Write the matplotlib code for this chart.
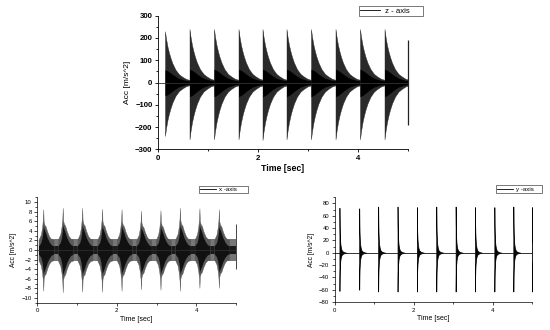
import matplotlib
matplotlib.use("Agg")
import matplotlib.pyplot as plt
from matplotlib.ticker import MultipleLocator
from matplotlib.lines import Line2D

# ---------------- data ----------------
# z-axis: impact times [s], positive / negative peak values [m/s^2]
z_times = [0.14, 0.63, 1.12, 1.61, 2.09, 2.57, 3.06, 3.55, 4.04, 4.53]
z_pos = [230, 240, 240, 240, 240, 240, 240, 240, 240, 240]
z_neg = [-240, -255, -255, -255, -258, -255, -255, -255, -255, -255]
z_end_time = [4.99]
z_end_pos = [190]
z_end_neg = [-190]
# envelope of one z burst (offset after impact [s], fraction of the peak)
z_env_off = [0.0, 0.02, 0.05, 0.08, 0.11, 0.15, 0.21, 0.28, 0.35, 0.42, 0.49]
z_env_frac = [1.0, 0.86, 0.70, 0.58, 0.48, 0.37, 0.25, 0.16, 0.11, 0.07, 0.05]
z_inner_frac = [0.25, 0.24, 0.23, 0.21, 0.19, 0.16, 0.12, 0.08, 0.06, 0.04, 0.03]

# x-axis
x_times = [0.15, 0.64, 1.13, 1.63, 2.12, 2.61, 3.10, 3.59, 4.08, 4.57]
x_pos = [8.5, 8.8, 8.8, 8.6, 8.5, 8.2, 8.3, 8.8, 8.7, 8.5]
x_neg = [-8.5, -8.8, -8.7, -8.7, -8.5, -8.2, -8.3, -8.5, -7.9, -7.9]
x_end_time = [4.99]
x_end_pos = [5.4]
x_end_neg = [-4.0]
x_env_off = [-0.12, -0.06, -0.03, -0.01, 0.0, 0.01, 0.03, 0.06, 0.10, 0.15, 0.20, 0.26]
x_env_frac = [0.25, 0.38, 0.55, 0.75, 1.0, 0.70, 0.62, 0.58, 0.45, 0.33, 0.27, 0.25]
x_inner_frac = [0.10, 0.18, 0.30, 0.45, 0.60, 0.55, 0.50, 0.42, 0.30, 0.20, 0.13, 0.10]
x_noise_start = [0.13]
x_noise_end = [4.99]
x_noise_outer = [2.2]
x_noise_inner = [0.9]

# y-axis
y_times = [0.12, 0.62, 1.10, 1.59, 2.08, 2.57, 3.06, 3.55, 4.04, 4.52, 4.99]
y_pos = [73, 72, 75, 75, 74, 75, 75, 74, 74, 75, 74]
y_neg = [-62, -60, -63, -63, -63, -63, -63, -63, -63, -63, -63]
y_env_off = [0.0, 0.004, 0.008, 0.015, 0.025, 0.04, 0.06, 0.09, 0.13, 0.18]
y_env_frac = [1.0, 0.62, 0.45, 0.30, 0.18, 0.10, 0.05, 0.025, 0.01, 0.0]

FONT = "Liberation Sans"

fig = plt.figure(figsize=(5.5, 3.3), dpi=100)
W, H = 550.0, 330.0


def add_axes(l, r, t, b):
    return fig.add_axes([l / W, 1 - b / H, (r - l) / W, (b - t) / H])


def style(ax, ylim, ymaj, ymin, fs, lw):
    ax.set_xlim(0, 5.0)
    ax.set_ylim(*ylim)
    ax.xaxis.set_major_locator(MultipleLocator(2))
    ax.xaxis.set_minor_locator(MultipleLocator(1))
    ax.yaxis.set_major_locator(MultipleLocator(ymaj))
    ax.yaxis.set_minor_locator(MultipleLocator(ymin))
    for s in ("top", "right"):
        ax.spines[s].set_visible(False)
    for s in ("left", "bottom"):
        ax.spines[s].set_linewidth(lw)
    ax.tick_params(which="major", direction="out", length=2.5, width=lw,
                   labelsize=fs, pad=1.5)
    ax.tick_params(which="minor", direction="out", length=1.5, width=lw)
    for lab in ax.get_xticklabels() + ax.get_yticklabels():
        lab.set_fontfamily(FONT)


def bursts(ax, times, pos, neg, off, frac, color, lw=0.0):
    for t0, p, n in zip(times, pos, neg):
        tt = [t0 + o for o in off]
        up = [p * f for f in frac]
        lo = [n * f for f in frac]
        ax.fill_between(tt, lo, up, color=color, lw=lw, edgecolor=color)


def legend(ax, text, x0, y0, x1, y1, fs):
    h = [Line2D([], [], color="k", lw=0.6)]
    ax.legend(h, [text], loc="center", bbox_to_anchor=(x0 / W, 1 - y1 / H,
              (x1 - x0) / W, (y1 - y0) / H), bbox_transform=fig.transFigure,
              mode="expand", fancybox=False, framealpha=1, edgecolor="#444",
              borderpad=0.15, handlelength=2.6, handletextpad=0.6,
              prop={"family": FONT, "size": fs}, borderaxespad=0)
    ax.get_legend().get_frame().set_linewidth(0.5)


# ---------------- top: z-axis ----------------
ax1 = add_axes(158, 408, 15.7, 149.3)
ax1.axhline(0, color="#333", lw=0.6)
bursts(ax1, z_times, z_pos, z_neg, z_env_off, z_env_frac, "#2a2a2a", 0.3)
bursts(ax1, z_times, z_pos, z_neg, z_env_off, z_inner_frac, "#000000")
ax1.vlines(z_end_time, z_end_neg, z_end_pos, color="#222", lw=0.9,
           clip_on=False)
style(ax1, (-300, 300), 100, 50, 5.6, 0.6)
for lab in ax1.get_xticklabels() + ax1.get_yticklabels():
    lab.set_fontweight("bold")
ax1.set_xlabel("Time [sec]", fontfamily=FONT, fontsize=6.3,
               fontweight="bold", labelpad=1.5)
ax1.set_ylabel("Acc [m/s^2]", fontfamily=FONT, fontsize=6.0, labelpad=3)
legend(ax1, "z - axis", 359, 7, 423, 15.5, 5.6)

# ---------------- bottom left: x-axis ----------------
ax2 = add_axes(37.3, 236, 197.3, 302.7)
ax2.axhline(0, color="#333", lw=0.5)
for s, e, o, i in zip(x_noise_start, x_noise_end, x_noise_outer,
                      x_noise_inner):
    ax2.fill_between([s, e], [-o, -o], [o, o], color="#777777", lw=0)
    ax2.fill_between([s, e], [-i, -i], [i, i], color="#1a1a1a", lw=0)
bursts(ax2, x_times, x_pos, x_neg, x_env_off, x_env_frac, "#5a5a5a", 0.3)
bursts(ax2, x_times, x_pos, x_neg, x_env_off, x_inner_frac, "#111111")
ax2.vlines(x_end_time, x_end_neg, x_end_pos, color="#444", lw=0.7,
           clip_on=False)
style(ax2, (-11, 11), 2, 1, 4.3, 0.5)
ax2.set_xlabel("Time [sec]", fontfamily=FONT, fontsize=5.0, labelpad=2)
ax2.set_ylabel("Acc [m/s^2]", fontfamily=FONT, fontsize=4.8, labelpad=3)
legend(ax2, "x -axis", 199, 185.7, 248, 192.7, 4.4)

# ---------------- bottom right: y-axis ----------------
ax3 = add_axes(334.7, 532.3, 197.3, 302.0)
ax3.axhline(0, color="#111", lw=0.6)
bursts(ax3, y_times, y_pos, y_neg, y_env_off, y_env_frac, "#000000", 0.5)
style(ax3, (-80, 90), 20, 10, 4.3, 0.5)
ax3.set_xlabel("Time [sec]", fontfamily=FONT, fontsize=5.0, labelpad=2)
ax3.set_ylabel("Acc [m/s^2]", fontfamily=FONT, fontsize=4.8, labelpad=3)
legend(ax3, "y -axis", 496, 185.7, 541.7, 192.3, 4.4)

fig.savefig("out.png", dpi=100)
